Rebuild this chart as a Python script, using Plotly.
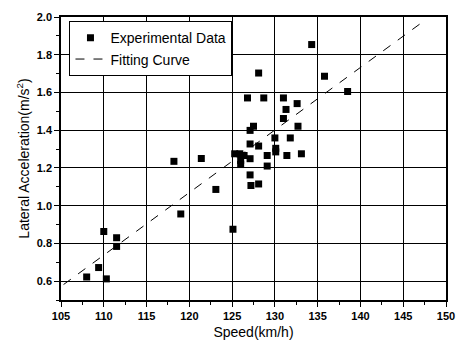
import plotly.graph_objects as go

speed = [108.0, 109.4, 110.0, 110.3, 111.5, 111.5, 119.0, 123.1, 125.1, 118.2, 121.4, 125.3,
         125.9, 126.4, 126.0, 126.0, 127.1, 127.1, 127.2, 128.1, 127.1, 128.1, 129.1, 129.1,
         130.1, 130.1, 131.4, 133.1, 131.8, 130.0, 127.1, 127.5, 132.7, 131.0, 131.3, 132.6,
         126.8, 128.7, 131.0, 138.5, 135.8, 128.1, 134.3]
accel = [0.622, 0.672, 0.863, 0.612, 0.830, 0.784, 0.956, 1.086, 0.875, 1.235, 1.250, 1.275,
         1.275, 1.266, 1.240, 1.218, 1.249, 1.163, 1.107, 1.115, 1.327, 1.316, 1.266, 1.210,
         1.304, 1.285, 1.266, 1.275, 1.359, 1.359, 1.399, 1.421, 1.421, 1.462, 1.510, 1.541,
         1.571, 1.571, 1.571, 1.605, 1.686, 1.703, 1.854]

fit_x = [105.3, 147.4]
fit_y = [0.582, 1.978]

x_ticks = [105, 110, 115, 120, 125, 130, 135, 140, 145, 150]
y_ticks = [0.6, 0.8, 1.0, 1.2, 1.4, 1.6, 1.8, 2.0]

fig = go.Figure()
fig.add_trace(go.Scatter(x=speed, y=accel, mode="markers", name="Experimental Data",
                         marker=dict(symbol="square", size=7, color="black")))
fig.add_trace(go.Scatter(x=fit_x, y=fit_y, mode="lines", name="Fitting Curve",
                         line=dict(color="black", width=1, dash="dash")))

font = "Liberation Sans, Arial, sans-serif"
fig.update_layout(
    width=466, height=349,
    margin=dict(l=61, r=15, t=11, b=46),
    paper_bgcolor="white", plot_bgcolor="white",
    font=dict(family=font, color="black", size=11),
    showlegend=True,
    legend=dict(x=0.022, y=0.985, xanchor="left", yanchor="top",
                bgcolor="white", bordercolor="black", borderwidth=1,
                font=dict(size=14, family=font), tracegroupgap=0,
                itemwidth=30),
    xaxis=dict(range=[105, 150], dtick=5, tick0=105, showgrid=True, gridcolor="black",
               gridwidth=1, showline=True, linecolor="black", linewidth=1.5, mirror=True,
               ticks="outside", ticklen=5, tickcolor="black", zeroline=False,
               tickfont=dict(size=11, family=font, weight="bold"),
               minor=dict(dtick=2.5, tick0=105, ticks="outside", ticklen=3,
                          tickcolor="black", showgrid=False),
               title=dict(text="Speed(km/h)", font=dict(size=14, family=font), standoff=6)),
    yaxis=dict(range=[0.5, 2.0], dtick=0.2, tick0=0.6, tickformat=".1f", showgrid=True,
               gridcolor="black", gridwidth=1, showline=True, linecolor="black", linewidth=1.5,
               mirror=True, ticks="outside", ticklen=5, tickcolor="black", zeroline=False,
               tickfont=dict(size=11, family=font, weight="bold"),
               minor=dict(dtick=0.1, tick0=0.5, ticks="outside", ticklen=3,
                          tickcolor="black", showgrid=False),
               title=dict(text="Lateral Acceleration(m/s<sup>2</sup>)", font=dict(size=14, family=font),
                          standoff=4)),
)
fig.write_html("out.html")
